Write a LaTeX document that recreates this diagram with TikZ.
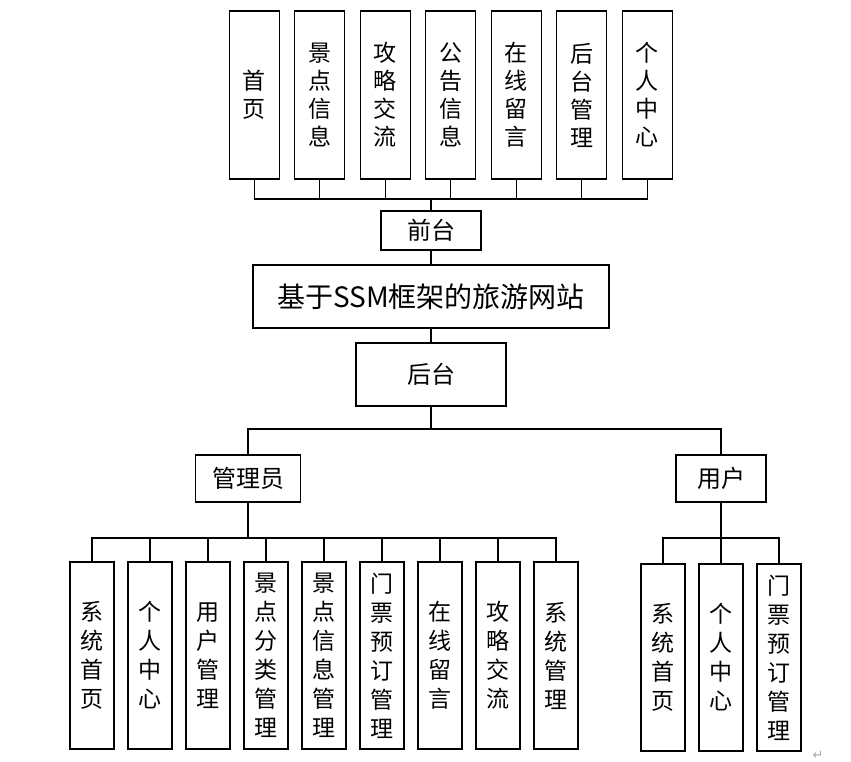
\documentclass[tikz,border=0pt]{standalone}
\usepackage{fontspec}
\newfontfamily\cjk{Noto Sans CJK SC}
\newfontfamily\symfont{DejaVu Sans}
\usepackage{tikz}
\usetikzlibrary{positioning}

\begin{document}
\begin{tikzpicture}[
  x=1pt, y=-1pt,
  box/.style={draw, line width=1.3pt, inner sep=0pt, outer sep=0pt, align=center,
    font=\cjk\fontsize{24}{28}\selectfont},
  tallbox/.style={box, minimum width=50pt, minimum height=168pt,
    font=\cjk\fontsize{23}{28}\selectfont},
  leafbox/.style={box, minimum width=44pt, minimum height=187pt,
    font=\cjk\fontsize{23}{29}\selectfont},
  link/.style={line width=1.3pt},
]
  \useasboundingbox (0,0) rectangle (851,761);

  % main column
  \node[box, minimum width=356pt, minimum height=63pt, font=\cjk\fontsize{28}{32}\selectfont]
    (site) at (431,296.5) {基于SSM框架的旅游网站};
  \node[box, minimum width=100pt, minimum height=39pt] (qiantai) at (431,230.5) {前台};
  \node[box, minimum width=150pt, minimum height=63pt] (houtai) at (431,374.5) {后台};
  \node[box, minimum width=105pt, minimum height=47pt] (admin) at (248,478.5) {管理员};
  \node[box, minimum width=90pt, minimum height=47pt] (user) at (721,478.5) {用户};

  % front end modules
  \node[tallbox] (shouye) at (254.3,95) {首\\页};
  \node[tallbox, right=15.5pt of shouye] (jdxx) {景\\点\\信\\息};
  \node[tallbox, right=15.5pt of jdxx] (gljl) {攻\\略\\交\\流};
  \node[tallbox, right=15.5pt of gljl] (ggxx) {公\\告\\信\\息};
  \node[tallbox, right=15.5pt of ggxx] (zxly) {在\\线\\留\\言};
  \node[tallbox, right=15.5pt of zxly] (htgl) {后\\台\\管\\理};
  \node[tallbox, right=15.5pt of htgl] (grzx) {个\\人\\中\\心};

  % admin modules
  \node[leafbox] (axtsy) at (92,655.5) {系\\统\\首\\页};
  \node[leafbox, right=14pt of axtsy] (agrzx) {个\\人\\中\\心};
  \node[leafbox, right=14pt of agrzx] (ayhgl) {用\\户\\管\\理};
  \node[leafbox, right=14pt of ayhgl] (ajdfl) {景\\点\\分\\类\\管\\理};
  \node[leafbox, right=14pt of ajdfl] (ajdxx) {景\\点\\信\\息\\管\\理};
  \node[leafbox, right=14pt of ajdxx] (amp) {门\\票\\预\\订\\管\\理};
  \node[leafbox, right=14pt of amp] (azxly) {在\\线\\留\\言};
  \node[leafbox, right=14pt of azxly] (agljl) {攻\\略\\交\\流};
  \node[leafbox, right=14pt of agljl] (axtgl) {系\\统\\管\\理};

  % user modules
  \node[leafbox] (uxtsy) at (663,657.5) {系\\统\\首\\页};
  \node[leafbox, right=14pt of uxtsy] (ugrzx) {个\\人\\中\\心};
  \node[leafbox, right=14pt of ugrzx] (ump) {门\\票\\预\\订\\管\\理};

  \node[text=gray!70, font=\symfont\fontsize{13}{13}\selectfont] (pmark) at (818,755) {↵};

  % bus points
  \coordinate[above=12pt of qiantai.north] (qbus);
  \coordinate[below=23pt of houtai.south] (hbus);
  \coordinate[below=36pt of admin.south] (abus);
  \coordinate[below=36pt of user.south] (ubus);

  % connectors
  \draw[link] (qiantai.north) -- (qbus);
  \draw[link] (shouye.south) |- (qbus) (jdxx.south) |- (qbus) (gljl.south) |- (qbus)
    (ggxx.south) |- (qbus) (zxly.south) |- (qbus) (htgl.south) |- (qbus) (grzx.south) |- (qbus);
  \draw[link] (qiantai.south) -- (site.north);
  \draw[link] (site.south) -- (houtai.north);
  \draw[link] (houtai.south) -- (hbus);
  \draw[link] (hbus) -| (admin.north);
  \draw[link] (hbus) -| (user.north);

  \draw[link] (admin.south) -- (abus);
  \draw[link] (axtsy.north) |- (abus) (agrzx.north) |- (abus) (ayhgl.north) |- (abus)
    (ajdfl.north) |- (abus) (ajdxx.north) |- (abus) (amp.north) |- (abus)
    (azxly.north) |- (abus) (agljl.north) |- (abus) (axtgl.north) |- (abus);

  \draw[link] (user.south) -- (ubus);
  \draw[link] (uxtsy.north) |- (ubus) (ugrzx.north) |- (ubus) (ump.north) |- (ubus);
\end{tikzpicture}
\end{document}
